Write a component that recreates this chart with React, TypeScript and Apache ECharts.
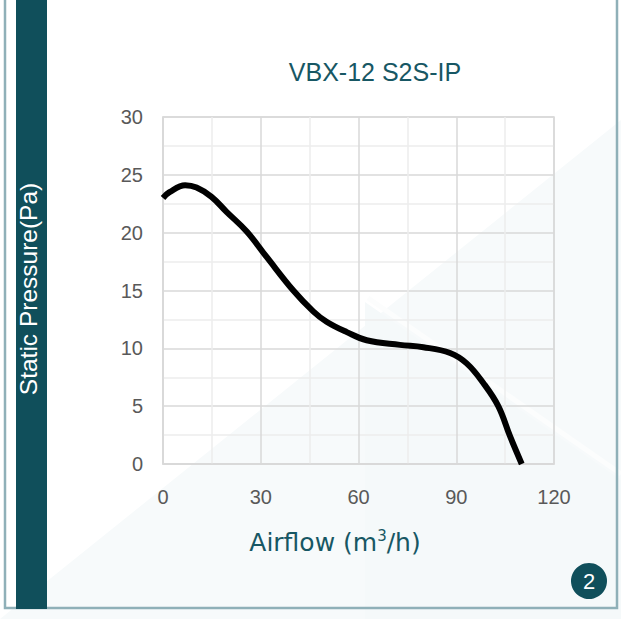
import React, { useEffect, useRef } from "react";
import * as echarts from "echarts";

const airflow = [0, 2, 6.8, 10.3, 14.9, 19.5, 25.7, 31.8, 40, 46.1, 50.2, 56.4, 62.5, 72.7, 79.9, 88.1, 93.2, 98.3, 102.9, 106.5, 110.1];
const pressure = [23.0, 23.5, 24.1, 23.9, 23.1, 21.8, 20.1, 17.9, 15.0, 13.2, 12.3, 11.4, 10.7, 10.3, 10.1, 9.6, 8.7, 7.0, 5.0, 2.4, 0];
const xTicks = [0, 30, 60, 90, 120];
const yTicks = [0, 5, 10, 15, 20, 25, 30];

const TEAL = "#104f5b";
const TEXT_TEAL = "#175764";
const LABEL = "#595959";
const FONT = "'Liberation Sans', Arial, sans-serif";

export default function App() {
  const ref = useRef<HTMLDivElement>(null);
  useEffect(() => {
    if (!ref.current) return;
    const chart = echarts.init(ref.current, null, { renderer: "svg" });
    const data = airflow.map((x, i) => [x, pressure[i]]);
    chart.setOption({
      animation: false,
      backgroundColor: "#ffffff",
      textStyle: { fontFamily: FONT },
      grid: {
        left: 163,
        top: 117,
        width: 391,
        height: 347,
        show: true,
        borderColor: "#d9d9d9",
        borderWidth: 1.5,
        backgroundColor: "transparent",
      },
      xAxis: {
        type: "value",
        min: xTicks[0],
        max: xTicks[xTicks.length - 1],
        interval: 30,
        axisLine: { show: true, lineStyle: { color: "#d9d9d9", width: 1.5 } },
        axisTick: { show: false },
        axisLabel: { color: LABEL, fontSize: 20, margin: 23, fontFamily: FONT },
        splitLine: { show: true, lineStyle: { color: "#d9d9d9", width: 1.5 } },
        minorTick: { show: false, splitNumber: 2 },
        minorSplitLine: { show: true, lineStyle: { color: "#ececec", width: 1.5 } },
      },
      yAxis: {
        type: "value",
        min: yTicks[0],
        max: yTicks[yTicks.length - 1],
        interval: 5,
        axisLine: { show: true, lineStyle: { color: "#d9d9d9", width: 1.5 } },
        axisTick: { show: false },
        axisLabel: { color: LABEL, fontSize: 20, margin: 20, fontFamily: FONT },
        splitLine: { show: true, lineStyle: { color: "#d9d9d9", width: 1.5 } },
        minorTick: { show: false, splitNumber: 2 },
        minorSplitLine: { show: true, lineStyle: { color: "#ececec", width: 1.5 } },
      },
      series: [
        {
          type: "line",
          data,
          smooth: 0.4,
          showSymbol: false,
          lineStyle: { color: "#000000", width: 6 },
          z: 5,
        },
      ],
      graphic: [
        {
          type: "polygon",
          z: -100,
          shape: { points: [[0, 619], [621, 120], [621, 619]] },
          style: { fill: "#f7fafb" },
        },
        {
          type: "polygon",
          z: -99,
          shape: { points: [[365, 302], [621, 480], [621, 619], [365, 619]] },
          style: { fill: "#f5f9fa" },
        },
        {
          type: "line",
          z: -98,
          shape: { x1: 368, y1: 298, x2: 621, y2: 474 },
          style: { stroke: "#fcfdfd", lineWidth: 5 },
        },
        {
          type: "polyline",
          z: 10,
          shape: { points: [[5, 0], [5, 608], [617, 608], [617, 0]] },
          style: { stroke: "#8fb0b8", lineWidth: 2.5, fill: null },
        },
        {
          type: "rect",
          z: 11,
          shape: { x: 16, y: 0, width: 31, height: 609 },
          style: { fill: TEAL },
        },
        {
          type: "text",
          z: 12,
          x: 28,
          y: 289,
          rotation: Math.PI / 2,
          style: {
            text: "Static Pressure(Pa)",
            fill: "#ffffff",
            font: `24.5px ${FONT}`,
            textAlign: "center",
            textVerticalAlign: "middle",
          },
        },
        {
          type: "text",
          z: 12,
          x: 375,
          y: 72,
          style: {
            text: "VBX-12 S2S-IP",
            fill: TEXT_TEAL,
            font: `25px ${FONT}`,
            textAlign: "center",
            textVerticalAlign: "middle",
          },
        },
        {
          type: "text",
          z: 12,
          x: 335,
          y: 542,
          style: {
            text: "{a|Airflow (m}{s|3}{a|/h)}",
            textAlign: "center",
            textVerticalAlign: "middle",
            rich: {
              a: { fontSize: 25, fontFamily: "'DejaVu Sans', sans-serif", fill: TEXT_TEAL, lineHeight: 28 },
              s: { fontSize: 15, fontFamily: "'DejaVu Sans', sans-serif", fill: TEXT_TEAL, verticalAlign: "top", lineHeight: 18 },
            },
          },
        },
        {
          type: "circle",
          z: 12,
          shape: { cx: 589, cy: 581, r: 18 },
          style: { fill: TEAL },
        },
        {
          type: "text",
          z: 13,
          x: 589,
          y: 581,
          style: {
            text: "2",
            fill: "#ffffff",
            font: `22px ${FONT}`,
            textAlign: "center",
            textVerticalAlign: "middle",
          },
        },
      ],
    });
    return () => chart.dispose();
  }, []);
  return (
    <div
      ref={ref}
      style={{ position: "absolute", left: 0, top: 0, width: 621, height: 619 }}
    />
  );
}
